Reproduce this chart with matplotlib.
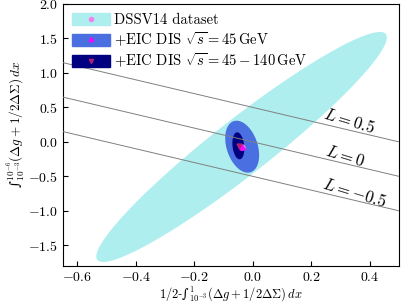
import numpy as np
import matplotlib
matplotlib.use('Agg')
import matplotlib.pyplot as plt
from matplotlib.patches import Patch
from matplotlib.lines import Line2D

plt.rcParams['font.family'] = 'serif'
plt.rcParams['font.serif'] = ['cmr10']
plt.rcParams['mathtext.fontset'] = 'cm'
plt.rcParams['axes.formatter.use_mathtext'] = True
plt.rcParams['font.size'] = 10

# ellipses: centre x, centre y, sigma x, sigma y, correlation
labels = ['DSSV14 dataset',
          r'+EIC DIS $\sqrt{s}=45\,\mathrm{GeV}$',
          r'+EIC DIS $\sqrt{s}=45-140\,\mathrm{GeV}$']
cx = [-0.038, -0.036, -0.049]
cy = [-0.074, -0.070, -0.057]
sx = [0.497, 0.058, 0.0205]
sy = [1.668, 0.377, 0.196]
rho = [0.952, -0.33, -0.2]
fill = ['paleturquoise', '#4a6fe0', 'navy']

# best-fit markers
mx = [-0.036, -0.037, -0.047]
my = [-0.076, -0.078, -0.060]
mk = ['o', '^', 'v']
mcol = ['violet', 'magenta', '#b0207a']

L_vals = [0.5, 0.0, -0.5]
L_text = [r'$L=0.5$', r'$L=0$', r'$L=-0.5$']
L_tx = [0.33, 0.315, 0.35]
L_ty = [0.31, -0.20, -0.73]

fig = plt.figure(figsize=(4.07, 3.05), dpi=100)
ax = fig.add_axes([0.154, 0.128, 0.826, 0.859])

t = np.linspace(0, 2 * np.pi, 300)
for i in range(3):
    cov = np.array([[sx[i]**2, rho[i]*sx[i]*sy[i]],
                    [rho[i]*sx[i]*sy[i], sy[i]**2]])
    Lc = np.linalg.cholesky(cov)
    pts = Lc @ np.vstack([np.cos(t), np.sin(t)])
    ax.fill(cx[i] + pts[0], cy[i] + pts[1], color=fill[i], lw=0, zorder=1 + i)

xx = np.array([-0.65, 0.5])
for L in L_vals:
    ax.plot(xx, L - xx, color='gray', lw=0.7, zorder=5)
for s, x, y in zip(L_text, L_tx, L_ty):
    ax.text(x, y, s, rotation=-17, ha='center', va='center', fontsize=12, zorder=6)

for i in range(3):
    ax.plot(mx[i], my[i], marker=mk[i], color=mcol[i], ms=3.5, ls='none', zorder=7)

handles = []
for i in range(3):
    handles.append((Patch(color=fill[i]),
                    Line2D([], [], marker=mk[i], color=mcol[i], ms=3, ls='none')))
ax.legend(handles, labels, loc='upper left', frameon=False, fontsize=10.5,
          handlelength=2.6, handleheight=0.85, labelspacing=0.2, borderaxespad=0.0,
          borderpad=0.65, handletextpad=0.3)

ax.set_xlim(-0.65, 0.5)
ax.set_ylim(-1.8, 2.0)
ax.set_xticks([-0.6, -0.4, -0.2, 0.0, 0.2, 0.4])
ax.set_yticks([-1.5, -1.0, -0.5, 0.0, 0.5, 1.0, 1.5, 2.0])
ax.tick_params(direction='in', labelsize=10)
ax.set_xlabel(r'$1/2$-' + '\u222b' + r'${}_{10^{-3}}^{1}(\Delta g+1/2\Delta\Sigma)\,dx$',
              family='DejaVu Serif', fontsize=9, labelpad=1)
ax.set_ylabel('\u222b' + r'${}_{10^{-3}}^{10^{-6}}(\Delta g+1/2\Delta\Sigma)\,dx$',
              family='DejaVu Serif', fontsize=9.5, labelpad=1)
ax.yaxis.set_label_coords(-0.105, 0.54)

fig.savefig('out.png', dpi=100)
